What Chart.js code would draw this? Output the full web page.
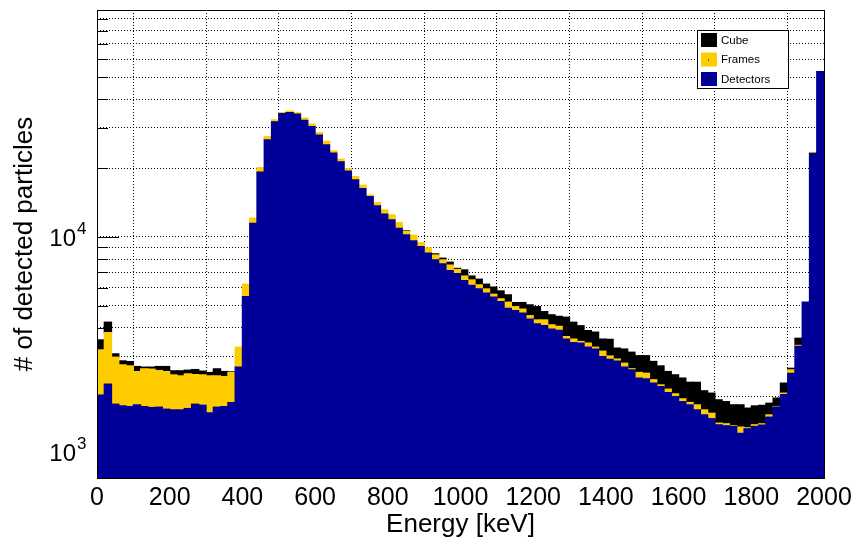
<!DOCTYPE html>
<html>
<head>
<meta charset="utf-8">
<script src="https://cdn.jsdelivr.net/npm/chart.js@4.4.1/dist/chart.umd.min.js"></script>
<style>
  html, body { margin: 0; padding: 0; background: #fff; }
</style>
</head>
<body>
<canvas id="spectrum" width="854" height="543"></canvas>
<script>
// bin centres [keV], 20 keV bins from 0 to 2000
const energies = [
  10, 30, 50, 70, 90, 110, 130, 150, 170, 190,
  210, 230, 250, 270, 290, 310, 330, 350, 370, 390,
  410, 430, 450, 470, 490, 510, 530, 550, 570, 590,
  610, 630, 650, 670, 690, 710, 730, 750, 770, 790,
  810, 830, 850, 870, 890, 910, 930, 950, 970, 990,
  1010, 1030, 1050, 1070, 1090, 1110, 1130, 1150, 1170, 1190,
  1210, 1230, 1250, 1270, 1290, 1310, 1330, 1350, 1370, 1390,
  1410, 1430, 1450, 1470, 1490, 1510, 1530, 1550, 1570, 1590,
  1610, 1630, 1650, 1670, 1690, 1710, 1730, 1750, 1770, 1790,
  1810, 1830, 1850, 1870, 1890, 1910, 1930, 1950, 1970, 1990
];

const detectors = [
  2030, 2266, 1852, 1821, 1808, 1839, 1808, 1790, 1797, 1761,
  1749, 1749, 1772, 1852, 1833, 1697, 1797, 1808, 1882, 2690,
  5480, 11470, 19200, 26580, 31860, 34650, 35000, 34500, 32400, 30400,
  27900, 25270, 23250, 21300, 19400, 17770, 16290, 15000, 13670, 12570,
  11870, 10900, 10200, 9610, 9070, 8490, 7930, 7620, 7120, 6900,
  6440, 6130, 5920, 5670, 5450, 5210, 4870, 4760, 4640, 4370,
  4160, 4090, 3950, 3900, 3570, 3450, 3430, 3290, 3230, 2990,
  2910, 2860, 2690, 2618, 2410, 2390, 2290, 2210, 2080, 2000,
  1900, 1839, 1749, 1663, 1600, 1504, 1490, 1480, 1380, 1445,
  1480, 1500, 1625, 1800, 2040, 2530, 3320, 5180, 23200, 52900
];

const frames = [
  1172, 1545, 1122, 932, 917, 734, 837, 847, 803, 812,
  740, 715, 742, 644, 656, 767, 667, 639, 667, 600,
  729, 600, 900, 890, 650, 350, 500, 450, 750, 800,
  700, 950, 550, 600, 450, 600, 550, 270, 450, 560,
  610, 650, 350, 560, 370, 460, 400, 310, 410, 300,
  300, 350, 250, 250, 160, 150, 310, 190, 190, 150,
  170, 240, 170, 160, 90, 120, 55, 140, 60, 170,
  100, 60, 110, 30, 140, 140, 80, 40, 75, 55,
  55, 45, 90, 86, 90, 26, 30, 10, 90, 15,
  25, 20, 38, 10, 30, 88, 30, 0, 230, 0
];

const cube = [
  339, 422, 102, 113, 121, 134, 45, 53, 107, 134,
  103, 128, 96, 130, 95, 85, 181, 128, 17, 0,
  0, 0, 0, 0, 0, 0, 0, 0, 0, 0,
  0, 0, 0, 0, 0, 0, 0, 0, 0, 0,
  0, 0, 70, 0, 0, 0, 100, 140, 220, 80,
  430, 260, 360, 290, 420, 440, 395, 210, 330, 520,
  620, 380, 440, 430, 790, 660, 600, 460, 540, 410,
  550, 340, 430, 480, 470, 490, 480, 475, 420, 435,
  455, 426, 470, 371, 380, 405, 380, 350, 370, 320,
  315, 310, 207, 160, 220, 42, 250, 0, 0, 0
];

const xTickValues = [0, 200, 400, 600, 800, 1000, 1200, 1400, 1600, 1800, 2000];
const yGridValues = [1000, 2000, 3000, 4000, 5000, 6000, 7000, 8000, 9000,
  10000, 20000, 30000, 40000, 50000, 60000, 70000, 80000, 90000];
const yLabelValues = [1000, 10000];
const legendOrder = ["Cube", "Frames", "Detectors"];

const FONT = "'Liberation Sans', Arial, Helvetica, sans-serif";
const colors = { Detectors: "#000099", Frames: "#ffcc00", Cube: "#000000" };

function series(label, values) {
  return {
    label: label,
    data: energies.map((e, i) => ({ x: e, y: values[i] })),
    backgroundColor: colors[label],
    borderWidth: 0,
    inflateAmount: 0.6,
    barPercentage: 1,
    categoryPercentage: 1,
  };
}

// ROOT-like decorations: inner y ticks, frame, superscript labels, legend box
const rootStyle = {
  id: "rootStyle",
  beforeDatasetsDraw(chart) {
    const { ctx, chartArea: a, scales: { y } } = chart;
    ctx.save();
    ctx.strokeStyle = "#000";
    ctx.lineWidth = 1;
    yGridValues.forEach((v) => {
      const py = Math.round(y.getPixelForValue(v)) + 0.5;
      const len = yLabelValues.includes(v) ? 22 : 11;
      ctx.beginPath();
      ctx.moveTo(a.left, py);
      ctx.lineTo(a.left + len, py);
      ctx.stroke();
    });
    ctx.restore();
  },
  afterDatasetsDraw(chart) {
    const { ctx, chartArea: a } = chart;
    ctx.save();
    ctx.strokeStyle = "#000";
    ctx.lineWidth = 1;
    ctx.strokeRect(Math.round(a.left) + 0.5, Math.round(a.top) + 0.5,
      Math.round(a.right - a.left), Math.round(a.bottom - a.top));
    ctx.restore();
  },
  afterDraw(chart) {
    const { ctx, scales: { y } } = chart;
    ctx.save();
    ctx.fillStyle = "#000";
    // y labels as 10^n
    yLabelValues.forEach((v) => {
      const exp = Math.round(Math.log10(v));
      const py = y.getPixelForValue(v) + (v === 1000 ? -11 : 2);
      ctx.font = "24px " + FONT;
      ctx.textAlign = "right";
      ctx.textBaseline = "middle";
      ctx.fillText("10", 76, py);
      ctx.font = "17px " + FONT;
      ctx.textAlign = "left";
      ctx.fillText(String(exp), 77, py - 10);
    });

    // legend
    const lx = 697, ly = 30, lw = 91, lh = 58;
    ctx.fillStyle = "#fff";
    ctx.fillRect(lx, ly, lw, lh);
    ctx.strokeStyle = "#000";
    ctx.lineWidth = 1;
    ctx.strokeRect(lx + 0.5, ly + 0.5, lw, lh);
    ctx.font = "11.5px " + FONT;
    ctx.textAlign = "left";
    ctx.textBaseline = "middle";
    legendOrder.forEach((name, i) => {
      const cy = ly + 10 + i * 19.5;
      ctx.fillStyle = colors[name];
      ctx.fillRect(lx + 4, cy - 7, 16, 14);
      ctx.fillStyle = "#000";
      ctx.fillRect(lx + 11, cy, 1, 1);
      ctx.fillText(name, lx + 24, cy + 0.5);
    });
    ctx.restore();
  },
};

new Chart(document.getElementById("spectrum"), {
  type: "bar",
  data: {
    datasets: [
      series("Detectors", detectors),
      series("Frames", frames),
      series("Cube", cube),
    ],
  },
  options: {
    responsive: false,
    animation: false,
    devicePixelRatio: 1,
    layout: { padding: { top: 10, right: 30, left: 0, bottom: 0 } },
    plugins: { legend: { display: false }, tooltip: { enabled: false } },
    scales: {
      x: {
        type: "linear",
        min: 0,
        max: 2000,
        offset: false,
        stacked: true,
        afterBuildTicks: (s) => { s.ticks = xTickValues.map((v) => ({ value: v })); },
        afterFit: (s) => { s.height = 65; s.paddingLeft = 0; s.paddingRight = 0; },
        ticks: {
          autoSkip: false,
          maxRotation: 0,
          color: "#000",
          padding: 5,
          font: { family: FONT, size: 25 },
          callback: (v) => String(v),
        },
        grid: { color: "#000", lineWidth: 1, drawTicks: false },
        border: { display: false, dash: [1, 2] },
        title: {
          display: true,
          text: "Energy [keV]",
          color: "#000",
          font: { family: FONT, size: 26 },
          padding: { top: 0, bottom: 3 },
        },
      },
      y: {
        type: "logarithmic",
        min: 880,
        max: 98500,
        stacked: true,
        afterBuildTicks: (s) => { s.ticks = yGridValues.map((v) => ({ value: v })); },
        afterFit: (s) => { s.width = 97; s.paddingTop = 0; s.paddingBottom = 0; },
        ticks: { display: false },
        grid: { color: "#000", lineWidth: 1, drawTicks: false },
        border: { display: false, dash: [1, 2] },
        title: {
          display: true,
          text: "# of detected particles",
          color: "#000",
          font: { family: FONT, size: 26 },
          padding: { top: 9, bottom: 0 },
        },
      },
    },
  },
  plugins: [rootStyle],
});
</script>
</body>
</html>
